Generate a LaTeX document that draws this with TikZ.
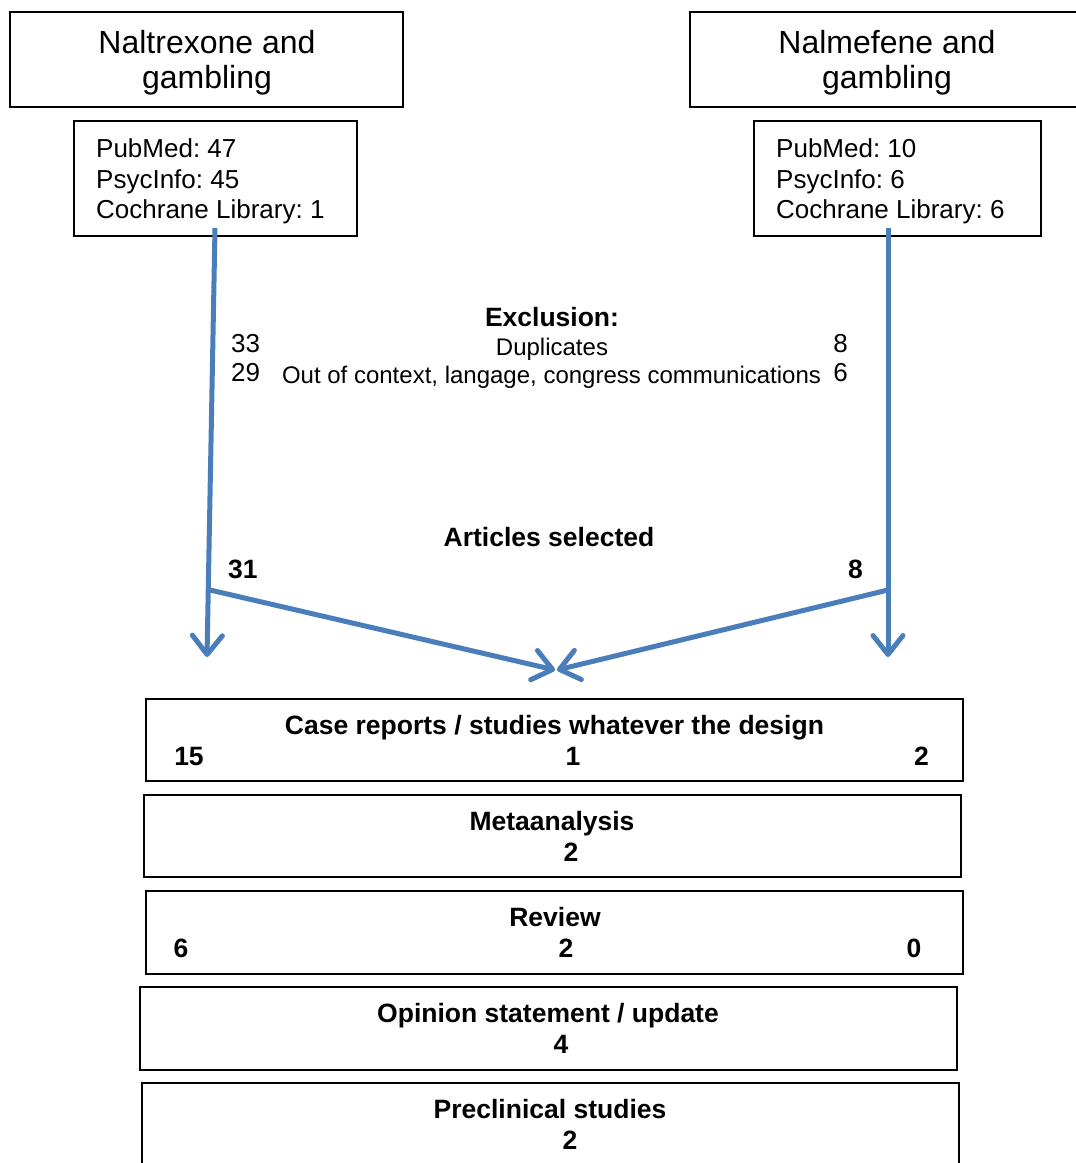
\documentclass[tikz,border=0pt]{standalone}
\usepackage{fontspec}
\setmainfont{Liberation Sans}
\usetikzlibrary{arrows.meta}
\definecolor{flowblue}{RGB}{74,126,187}
\frenchspacing
\begin{document}
\begin{tikzpicture}[x=1pt,y=-1pt,
  box/.style={draw=black,line width=2.4pt,inner sep=0pt,outer sep=0pt,rectangle},
  flow/.style={draw=flowblue,line width=5pt},
  tipped/.style={-{Straight Barb[length=19pt,width=30pt,line cap=round,line join=round]}},
  big/.style={font=\fontsize{32}{35}\selectfont,anchor=base,inner sep=0pt},
  db/.style={font=\fontsize{26}{30}\selectfont,anchor=base west,inner sep=0pt},
  bt/.style={font=\fontsize{26.5}{30}\selectfont\bfseries,anchor=base,inner sep=0pt},
  nt/.style={font=\fontsize{26}{30}\selectfont,anchor=base,inner sep=0pt},
  st/.style={font=\fontsize{24}{28}\selectfont,anchor=base,inner sep=0pt}]
\useasboundingbox (0,0) rectangle (1076,1163);
\fill[white] (0,0) rectangle (1076,1163);

% top boxes
\node[box,minimum width=393pt,minimum height=95pt] (nal) at (206.5,59.5) {};
\node[big] (nal1) at (207,53) {Naltrexone and};
\node[big] (nal2) at (207,88) {gambling};
\node[box,minimum width=393pt,minimum height=95pt] (nmf) at (886.5,59.5) {};
\node[big] (nmf1) at (887,53) {Nalmefene and};
\node[big] (nmf2) at (887,88) {gambling};

% database boxes
\node[box,minimum width=283pt,minimum height=115pt] (dbL) at (215.5,178.5) {};
\node[db] (dbL1) at (96,157) {PubMed: 47};
\node[db] (dbL2) at (96,188) {PsycInfo: 45};
\node[db] (dbL3) at (96,218) {Cochrane Library: 1};
\node[box,minimum width=287pt,minimum height=115pt] (dbR) at (897.5,178.5) {};
\node[db] (dbR1) at (776,157) {PubMed: 10};
\node[db] (dbR2) at (776,188) {PsycInfo: 6};
\node[db] (dbR3) at (776,218) {Cochrane Library: 6};

% arrows
\coordinate (sL) at (215,228);
\coordinate (eL) at (207,657);
\coordinate (jL) at (210,590);
\coordinate (sR) at (888,228);
\coordinate (eR) at (888,657);
\coordinate (jR) at (888,590);
\coordinate (mL) at (555,670);
\coordinate (mR) at (557,670);
\draw[flow,tipped] (sL) -- (eL);
\draw[flow,tipped] (sR) -- (eR);
\draw[flow,tipped] (jL) -- (mL);
\draw[flow,tipped] (jR) -- (mR);

% exclusion
\node[bt] (exc) at (552,326) {Exclusion:};
\node[st] (dup) at (552,355) {Duplicates};
\node[st] (ooc) at (551.5,383) {Out of context, langage, congress communications};
\node[nt,anchor=base west] (n33) at (231,352) {33};
\node[nt,anchor=base west] (n29) at (231,381) {29};
\node[nt,anchor=base east] (n8) at (848,352) {8};
\node[nt,anchor=base east] (n6) at (848,381) {6};

% selected
\node[bt] (sel) at (549,546) {Articles selected};
\node[bt,anchor=base west] (s31) at (228,578) {31};
\node[bt,anchor=base east] (s8) at (863,578) {8};

% result boxes
\node[box,minimum width=817pt,minimum height=82pt] (cr) at (554.5,740) {};
\node[bt] (crt) at (554.5,734) {Case reports / studies whatever the design};
\node[bt] (cr1) at (189,765) {15};
\node[bt] (cr2) at (573,765) {1};
\node[bt] (cr3) at (921.5,765) {2};

\node[box,minimum width=817pt,minimum height=82pt] (ma) at (552.5,836) {};
\node[bt] (mat) at (552,830) {Metaanalysis};
\node[bt] (ma1) at (571,861) {2};

\node[box,minimum width=817pt,minimum height=83pt] (rv) at (554.5,932.5) {};
\node[bt] (rvt) at (555,926) {Review};
\node[bt] (rv1) at (181,957) {6};
\node[bt] (rv2) at (566,957) {2};
\node[bt] (rv3) at (914,957) {0};

\node[box,minimum width=817pt,minimum height=83pt] (op) at (548.5,1028.5) {};
\node[bt] (opt) at (548,1022) {Opinion statement / update};
\node[bt] (op1) at (561,1053) {4};

\node[box,minimum width=817pt,minimum height=83pt] (pc) at (550.5,1124.5) {};
\node[bt] (pct) at (550,1118) {Preclinical studies};
\node[bt] (pc1) at (570,1149) {2};
\end{tikzpicture}
\end{document}
